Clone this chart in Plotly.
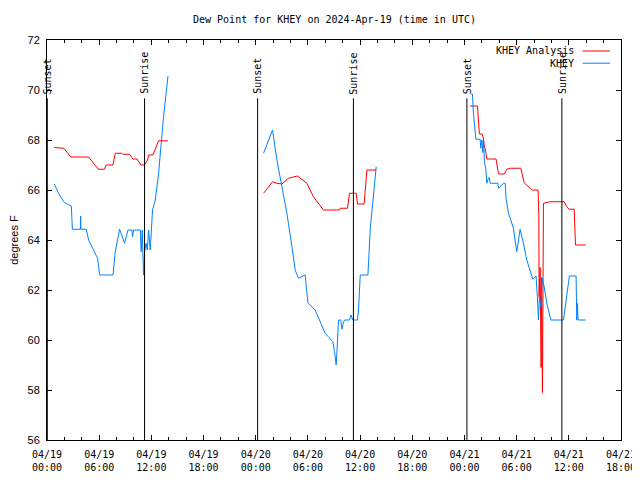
import plotly.graph_objects as go

# ---------------- data ----------------
analysis_time = [
    "2024-04-19 00:50", "2024-04-19 01:55", "2024-04-19 02:46", "2024-04-19 04:47",
    "2024-04-19 05:45", "2024-04-19 05:54", "2024-04-19 06:35", "2024-04-19 06:49",
    "2024-04-19 07:35", "2024-04-19 07:51", "2024-04-19 08:37", "2024-04-19 08:44",
    "2024-04-19 09:30", "2024-04-19 09:53", "2024-04-19 10:21", "2024-04-19 10:48",
    "2024-04-19 11:11", "2024-04-19 11:34", "2024-04-19 11:41", "2024-04-19 12:11",
    "2024-04-19 12:50", "2024-04-19 13:55",
    None,
    "2024-04-20 00:54", "2024-04-20 01:56", "2024-04-20 02:26", "2024-04-20 03:01",
    "2024-04-20 03:46", "2024-04-20 04:48", "2024-04-20 05:53", "2024-04-20 06:38",
    "2024-04-20 07:47", "2024-04-20 09:38", "2024-04-20 09:43", "2024-04-20 10:33",
    "2024-04-20 10:47", "2024-04-20 11:33", "2024-04-20 11:42", "2024-04-20 12:28",
    "2024-04-20 12:47", "2024-04-20 13:51",
    None,
    "2024-04-21 00:39", "2024-04-21 01:30", "2024-04-21 01:43", "2024-04-21 02:02",
    "2024-04-21 02:11", "2024-04-21 02:16", "2024-04-21 02:25", "2024-04-21 02:34",
    "2024-04-21 03:38", "2024-04-21 03:55", "2024-04-21 04:36", "2024-04-21 04:52",
    "2024-04-21 05:15", "2024-04-21 06:29", "2024-04-21 06:52", "2024-04-21 07:45",
    "2024-04-21 08:28", "2024-04-21 08:33", "2024-04-21 08:35", "2024-04-21 08:42",
    "2024-04-21 08:49", "2024-04-21 08:52", "2024-04-21 08:58", "2024-04-21 09:05",
    "2024-04-21 09:52", "2024-04-21 11:28", "2024-04-21 11:47", "2024-04-21 12:02",
    "2024-04-21 12:37", "2024-04-21 12:43", "2024-04-21 12:46", "2024-04-21 13:57",
]
analysis_dewpt = [
    67.7, 67.67, 67.32, 67.32, 66.9, 66.83, 66.83, 67.0,
    67.0, 67.47, 67.47, 67.43, 67.43, 67.24, 67.24, 67.0,
    67.0, 67.2, 67.4, 67.4, 67.97, 67.97,
    None,
    65.87, 66.33, 66.27, 66.24, 66.47, 66.56, 66.27, 65.73,
    65.2, 65.2, 65.27, 65.27, 65.87, 65.87, 65.44, 65.44,
    66.8, 66.8,
    None,
    69.36, 69.36, 68.24, 68.24, 68.07, 67.8, 67.6, 67.24,
    67.24, 66.64, 66.64, 66.83, 66.87, 66.87, 66.29, 66.0,
    66.0, 65.0, 61.73, 62.9, 58.9, 62.5, 57.9, 65.47,
    65.53, 65.53, 65.33, 65.23, 65.23, 64.53, 63.8, 63.8,
]

obs_time = [
    "2024-04-19 00:50", "2024-04-19 01:20", "2024-04-19 01:55", "2024-04-19 02:18",
    "2024-04-19 02:48", "2024-04-19 02:55", "2024-04-19 03:50", "2024-04-19 03:52",
    "2024-04-19 03:54", "2024-04-19 04:31", "2024-04-19 04:47", "2024-04-19 05:21",
    "2024-04-19 05:49", "2024-04-19 06:03", "2024-04-19 07:35", "2024-04-19 07:51",
    "2024-04-19 08:21", "2024-04-19 08:55", "2024-04-19 09:19", "2024-04-19 09:46",
    "2024-04-19 09:50", "2024-04-19 09:57", "2024-04-19 10:43", "2024-04-19 10:50",
    "2024-04-19 10:57", "2024-04-19 11:06", "2024-04-19 11:13", "2024-04-19 11:23",
    "2024-04-19 11:32", "2024-04-19 11:41", "2024-04-19 11:52", "2024-04-19 11:59",
    "2024-04-19 12:08", "2024-04-19 12:27", "2024-04-19 12:50", "2024-04-19 13:24",
    "2024-04-19 13:55",
    None,
    "2024-04-20 00:54", "2024-04-20 01:56", "2024-04-20 02:26", "2024-04-20 03:01",
    "2024-04-20 03:35", "2024-04-20 04:10", "2024-04-20 04:32", "2024-04-20 04:55",
    "2024-04-20 05:41", "2024-04-20 06:00", "2024-04-20 06:50", "2024-04-20 07:59",
    "2024-04-20 08:52", "2024-04-20 09:04", "2024-04-20 09:15", "2024-04-20 09:20",
    "2024-04-20 09:24", "2024-04-20 09:31", "2024-04-20 09:47", "2024-04-20 09:54",
    "2024-04-20 10:05", "2024-04-20 10:12", "2024-04-20 10:47", "2024-04-20 10:57",
    "2024-04-20 11:10", "2024-04-20 11:42", "2024-04-20 11:49", "2024-04-20 11:56",
    "2024-04-20 12:01", "2024-04-20 12:54", "2024-04-20 13:05", "2024-04-20 13:10",
    "2024-04-20 13:51",
    None,
    "2024-04-21 00:44", "2024-04-21 00:55", "2024-04-21 01:02", "2024-04-21 01:14",
    "2024-04-21 01:19", "2024-04-21 01:48", "2024-04-21 01:53", "2024-04-21 02:00",
    "2024-04-21 02:07", "2024-04-21 02:11", "2024-04-21 02:18", "2024-04-21 02:28",
    "2024-04-21 02:34", "2024-04-21 02:45", "2024-04-21 02:52", "2024-04-21 02:57",
    "2024-04-21 03:50", "2024-04-21 03:55", "2024-04-21 04:29", "2024-04-21 04:41",
    "2024-04-21 04:47", "2024-04-21 05:04", "2024-04-21 05:38", "2024-04-21 06:01",
    "2024-04-21 06:24", "2024-04-21 06:47", "2024-04-21 07:10", "2024-04-21 07:52",
    "2024-04-21 08:14", "2024-04-21 08:23", "2024-04-21 08:31", "2024-04-21 08:37",
    "2024-04-21 08:47", "2024-04-21 08:56", "2024-04-21 09:10", "2024-04-21 09:28",
    "2024-04-21 09:46", "2024-04-21 09:56", "2024-04-21 11:23", "2024-04-21 11:34",
    "2024-04-21 11:50", "2024-04-21 12:04", "2024-04-21 12:50", "2024-04-21 12:55",
    "2024-04-21 12:59", "2024-04-21 13:04", "2024-04-21 13:57",
]
obs_dewpt = [
    66.24, 65.87, 65.53, 65.44, 65.36, 64.43, 64.43, 64.96,
    64.43, 64.43, 64.0, 63.6, 63.27, 62.6, 62.6, 63.53,
    64.43, 63.87, 64.4, 64.4, 64.13, 64.4, 64.4, 63.53,
    64.4, 62.6, 63.53, 63.87, 63.6, 64.4, 63.6, 64.27,
    65.2, 65.6, 66.67, 68.93, 70.56,
    None,
    67.47, 68.4, 67.2, 66.13, 65.07, 63.73, 62.8, 62.47,
    62.6, 61.49, 61.2, 60.27, 59.93, 59.53, 59.0, 59.48,
    60.33, 60.8, 60.8, 60.43, 60.69, 60.8, 60.8, 61.0,
    60.8, 60.8, 61.2, 62.0, 62.6, 62.6, 64.43, 64.43,
    66.93,
    None,
    69.84, 69.84, 69.07, 68.33, 68.03, 68.03, 67.67, 68.0,
    67.5, 68.07, 67.13, 66.8, 66.27, 66.47, 66.5, 66.27,
    66.27, 66.07, 66.27, 66.27, 65.67, 65.07, 64.47, 63.53,
    64.43, 63.87, 63.2, 62.43, 62.56, 61.73, 60.8, 61.73,
    61.33, 62.47, 62.13, 61.47, 61.07, 60.8, 60.8, 61.33,
    62.13, 62.56, 62.56, 60.8, 61.47, 60.8, 60.8,
]

sun_event_time = [
    "2024-04-19 00:02", "2024-04-19 11:13", "2024-04-20 00:13",
    "2024-04-20 11:14", "2024-04-21 00:17", "2024-04-21 11:12",
]
sun_event_label = ["Sunset", "Sunrise", "Sunset", "Sunrise", "Sunset", "Sunrise"]
sun_line_top = 69.67

x_tick_vals = [
    "2024-04-19 00:00", "2024-04-19 06:00", "2024-04-19 12:00", "2024-04-19 18:00",
    "2024-04-20 00:00", "2024-04-20 06:00", "2024-04-20 12:00", "2024-04-20 18:00",
    "2024-04-21 00:00", "2024-04-21 06:00", "2024-04-21 12:00", "2024-04-21 18:00",
]
x_tick_text = [
    "04/19<br>00:00", "04/19<br>06:00", "04/19<br>12:00", "04/19<br>18:00",
    "04/20<br>00:00", "04/20<br>06:00", "04/20<br>12:00", "04/20<br>18:00",
    "04/21<br>00:00", "04/21<br>06:00", "04/21<br>12:00", "04/21<br>18:00",
]
y_tick_vals = [56, 58, 60, 62, 64, 66, 68, 70, 72]

series_names = ["KHEY Analysis", "KHEY"]
series_colors = ["#ff0000", "#0080ff"]

# ---------------- figure ----------------
MONO = "DejaVu Sans Mono"
fig = go.Figure()

fig.add_trace(go.Scatter(x=analysis_time, y=analysis_dewpt, mode="lines",
                         line=dict(color=series_colors[0], width=1),
                         name=series_names[0], connectgaps=False))
fig.add_trace(go.Scatter(x=obs_time, y=obs_dewpt, mode="lines",
                         line=dict(color=series_colors[1], width=1),
                         name=series_names[1], connectgaps=False))

shapes = []
annotations = []
for t, lab in zip(sun_event_time, sun_event_label):
    shapes.append(dict(type="line", xref="x", yref="y", x0=t, x1=t,
                       y0=56, y1=sun_line_top, line=dict(color="black", width=1)))
    annotations.append(dict(x=t, y=sun_line_top, xref="x", yref="y",
                            text=lab, showarrow=False, textangle=-90,
                            xanchor="center", yanchor="bottom", yshift=2,
                            font=dict(family=MONO, size=10, color="black")))

# gnuplot-style legend: text right-aligned, sample line to its right
legend_y = [0.9725, 0.942]
for name, color, ly in zip(series_names, series_colors, legend_y):
    annotations.append(dict(x=0.921, y=ly, xref="paper", yref="paper",
                            text=name, showarrow=False, xanchor="right",
                            yanchor="middle",
                            font=dict(family=MONO, size=10, color="black")))
    shapes.append(dict(type="line", xref="paper", yref="paper",
                       x0=0.933, x1=0.981, y0=ly, y1=ly,
                       line=dict(color=color, width=1)))

annotations.append(dict(x=0.5, y=1.0, xref="paper", yref="paper",
                        text="Dew Point for KHEY on 2024-Apr-19 (time in UTC)",
                        showarrow=False, xanchor="center", yanchor="bottom",
                        yshift=13, font=dict(family=MONO, size=10, color="black")))

# the page body has an 8px margin, so the figure is placed at (8, 8)
fig.update_layout(
    width=632, height=472,
    margin=dict(l=39, r=19, t=32, b=40, autoexpand=False),
    paper_bgcolor="white", plot_bgcolor="white",
    showlegend=False,
    shapes=shapes, annotations=annotations,
    font=dict(family=MONO, size=10, color="black"),
)

fig.update_xaxes(
    type="date", automargin=False,
    range=["2024-04-19 00:00", "2024-04-21 18:00"],
    tickmode="array", tickvals=x_tick_vals, ticktext=x_tick_text,
    ticks="inside", ticklen=5, tickcolor="black", ticklabelstandoff=5,
    minor=dict(ticks="inside", ticklen=3, dtick=2 * 3600 * 1000,
               tick0="2024-04-19 00:00", tickcolor="black", showgrid=False),
    showline=True, linecolor="black", linewidth=1, mirror="allticks",
    showgrid=False, zeroline=False,
    tickfont=dict(family=MONO, size=10, color="black"),
)
fig.update_yaxes(
    automargin=False,
    range=[56, 72], tickmode="array", tickvals=y_tick_vals,
    ticks="inside", ticklen=5, tickcolor="black", ticklabelstandoff=4,
    showline=True, linecolor="black", linewidth=1, mirror="allticks",
    showgrid=False, zeroline=False,
    tickfont=dict(family="Liberation Sans", size=11, color="black"),
    title=dict(text="degrees F", standoff=12,
               font=dict(family="Liberation Sans", size=11, color="black")),
)

fig.write_html("out.html")
